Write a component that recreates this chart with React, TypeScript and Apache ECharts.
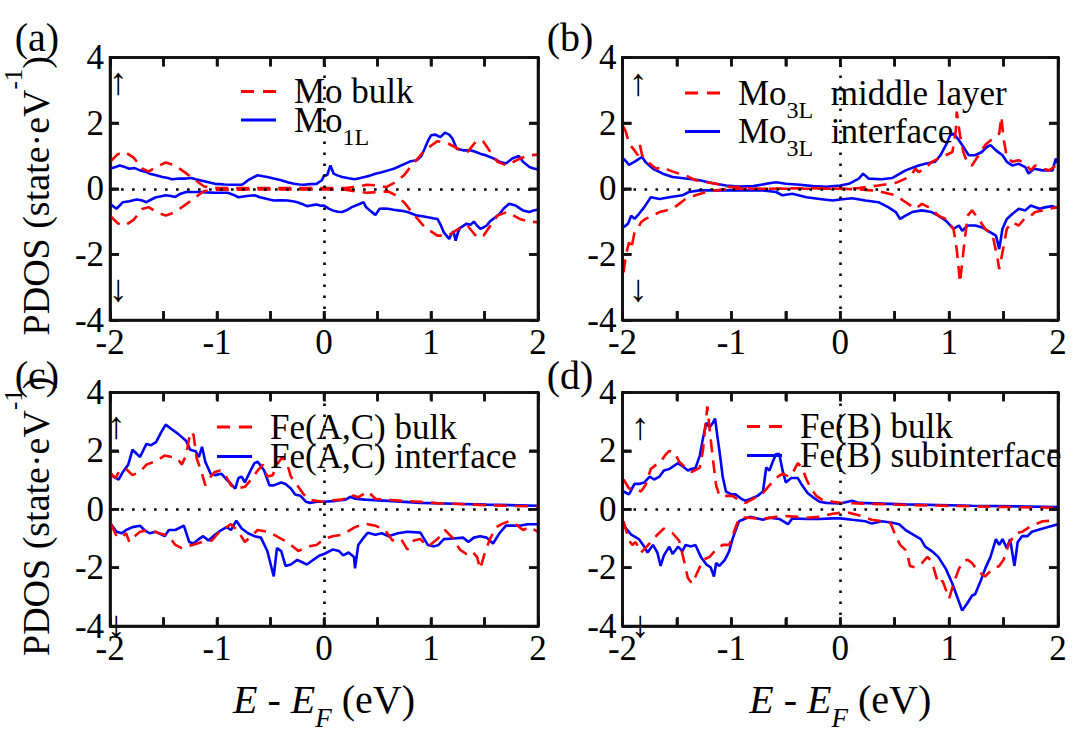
import React, { useEffect, useRef } from 'react';
import * as echarts from 'echarts';

// ---------- data: [E - E_F (eV), PDOS] ----------
// (a) Mo bulk / Mo 1L
const aBulkUp = [[-2,0.82],[-1.93,1.05],[-1.86,1.12],[-1.78,0.95],[-1.7,0.62],[-1.64,0.52],[-1.56,0.68],[-1.48,0.8],[-1.4,0.72],[-1.3,0.5],[-1.22,0.3],[-1.12,0.07],[-1.0,0.02],[-0.5,0.02],[0,0.02],[0.2,0.02],[0.3,0.06],[0.4,0.12],[0.5,0.1],[0.58,0.05],[0.67,0.2],[0.75,0.42],[0.82,0.71],[0.94,1.17],[1.06,1.45],[1.16,1.38],[1.28,1.17],[1.34,1.12],[1.43,1.48],[1.49,1.43],[1.62,0.82],[1.71,0.71],[1.83,0.92],[1.92,1.02],[2.0,1.04]];
const aBulkDn = [[-2,-0.82],[-1.93,-1.05],[-1.86,-1.12],[-1.78,-0.95],[-1.7,-0.62],[-1.64,-0.56],[-1.56,-0.72],[-1.48,-0.82],[-1.4,-0.72],[-1.3,-0.5],[-1.22,-0.3],[-1.12,-0.07],[-1.0,-0.03],[-0.5,-0.02],[0,-0.02],[0.2,-0.03],[0.3,-0.08],[0.4,-0.12],[0.5,-0.1],[0.6,-0.08],[0.67,-0.2],[0.75,-0.42],[0.82,-0.71],[0.94,-1.17],[1.06,-1.43],[1.16,-1.43],[1.28,-1.17],[1.34,-1.12],[1.43,-1.48],[1.49,-1.43],[1.62,-0.82],[1.71,-0.71],[1.83,-0.92],[1.92,-1.0],[2.0,-1.02]];
const a1LUp = [[-2,0.61],[-1.95,0.66],[-1.91,0.71],[-1.86,0.66],[-1.82,0.61],[-1.77,0.63],[-1.72,0.56],[-1.67,0.52],[-1.63,0.46],[-1.57,0.41],[-1.51,0.36],[-1.46,0.33],[-1.42,0.29],[-1.35,0.31],[-1.29,0.31],[-1.24,0.33],[-1.2,0.29],[-1.15,0.25],[-1.11,0.22],[-1.06,0.18],[-1.02,0.15],[-0.97,0.14],[-0.93,0.13],[-0.85,0.12],[-0.77,0.12],[-0.74,0.18],[-0.71,0.26],[-0.66,0.35],[-0.62,0.41],[-0.57,0.38],[-0.53,0.36],[-0.47,0.31],[-0.4,0.26],[-0.34,0.2],[-0.28,0.15],[-0.23,0.13],[-0.19,0.12],[-0.13,0.14],[-0.07,0.15],[-0.02,0.26],[0.0,0.4],[0.03,0.42],[0.06,0.71],[0.09,0.46],[0.13,0.4],[0.17,0.36],[0.23,0.32],[0.29,0.29],[0.34,0.33],[0.38,0.36],[0.43,0.4],[0.48,0.46],[0.54,0.5],[0.6,0.56],[0.66,0.62],[0.72,0.71],[0.77,0.78],[0.81,0.84],[0.87,0.87],[0.91,1.0],[0.94,1.22],[0.97,1.45],[1.0,1.63],[1.04,1.65],[1.07,1.6],[1.09,1.58],[1.13,1.71],[1.17,1.65],[1.2,1.53],[1.24,1.22],[1.3,1.17],[1.37,1.17],[1.42,1.12],[1.46,1.07],[1.51,1.02],[1.55,0.97],[1.6,0.9],[1.64,0.82],[1.7,0.77],[1.76,0.92],[1.82,1.0],[1.86,0.82],[1.92,0.66],[1.96,0.62],[2.0,0.59]];
const a1LDn = [[-2,-0.46],[-1.94,-0.61],[-1.88,-0.41],[-1.82,-0.38],[-1.75,-0.33],[-1.7,-0.36],[-1.66,-0.41],[-1.61,-0.32],[-1.57,-0.26],[-1.52,-0.23],[-1.48,-0.2],[-1.43,-0.22],[-1.39,-0.25],[-1.34,-0.15],[-1.29,-0.1],[-1.17,-0.1],[-1.1,-0.11],[-1.02,-0.12],[-0.9,-0.12],[-0.85,-0.18],[-0.8,-0.26],[-0.72,-0.22],[-0.65,-0.2],[-0.6,-0.26],[-0.56,-0.29],[-0.51,-0.33],[-0.47,-0.36],[-0.4,-0.35],[-0.34,-0.36],[-0.28,-0.39],[-0.25,-0.41],[-0.2,-0.47],[-0.16,-0.53],[-0.11,-0.5],[-0.07,-0.48],[-0.03,-0.52],[0.0,-0.51],[0.04,-0.6],[0.08,-0.66],[0.13,-0.7],[0.17,-0.71],[0.22,-0.64],[0.26,-0.56],[0.32,-0.48],[0.37,-0.41],[0.39,-0.55],[0.41,-0.61],[0.45,-0.72],[0.48,-0.8],[0.52,-0.61],[0.56,-0.6],[0.6,-0.61],[0.65,-0.64],[0.69,-0.66],[0.74,-0.68],[0.78,-0.71],[0.83,-0.77],[0.87,-0.82],[0.92,-0.84],[0.97,-0.87],[1.02,-0.9],[1.06,-0.92],[1.09,-1.1],[1.12,-1.33],[1.15,-1.45],[1.17,-1.53],[1.19,-1.38],[1.21,-1.3],[1.23,-1.58],[1.25,-1.35],[1.27,-1.2],[1.33,-1.07],[1.37,-1.1],[1.4,-1.0],[1.43,-1.12],[1.46,-1.22],[1.49,-1.18],[1.52,-1.12],[1.55,-1.0],[1.58,-0.92],[1.64,-0.77],[1.68,-0.6],[1.73,-0.46],[1.79,-0.51],[1.83,-0.6],[1.86,-0.66],[1.92,-0.71],[1.96,-0.66],[2.0,-0.63]];

// (b) Mo 3L middle layer / Mo 3L interface
const bMidUp = [[-1.99,1.89],[-1.97,1.74],[-1.94,1.38],[-1.89,1.17],[-1.86,1.02],[-1.84,1.33],[-1.82,1.02],[-1.75,0.77],[-1.69,0.61],[-1.63,0.66],[-1.57,0.56],[-1.48,0.46],[-1.42,0.41],[-1.33,0.26],[-1.23,0.2],[-1.14,0.15],[-1.02,0.05],[-0.9,0.05],[-0.8,0.0],[-0.65,0.0],[-0.3,0.02],[0,0.0],[0.17,0.02],[0.35,0.1],[0.51,0.18],[0.6,0.31],[0.66,0.46],[0.69,0.61],[0.72,0.51],[0.78,0.61],[0.84,0.82],[0.9,0.92],[0.97,1.02],[1.03,1.12],[1.06,1.73],[1.07,2.35],[1.1,1.63],[1.13,1.12],[1.17,0.77],[1.21,0.71],[1.27,1.02],[1.33,1.33],[1.4,1.53],[1.46,1.68],[1.48,2.19],[1.5,1.53],[1.53,0.97],[1.58,0.82],[1.64,0.87],[1.7,0.77],[1.75,0.56],[1.79,0.71],[1.86,0.61],[1.92,0.56],[1.98,0.71],[2.0,0.82]];
const bMidDn = [[-1.99,-2.55],[-1.97,-2.04],[-1.94,-1.63],[-1.92,-1.84],[-1.89,-1.33],[-1.86,-1.22],[-1.83,-1.02],[-1.79,-0.92],[-1.72,-0.82],[-1.66,-0.71],[-1.6,-0.66],[-1.54,-0.61],[-1.48,-0.46],[-1.42,-0.31],[-1.33,-0.2],[-1.23,-0.1],[-1.14,-0.05],[-1.02,0],[0,0],[0.17,-0.02],[0.29,-0.05],[0.38,-0.1],[0.51,-0.2],[0.6,-0.41],[0.69,-0.61],[0.75,-0.46],[0.84,-0.61],[0.9,-0.82],[0.97,-0.92],[1.04,-1.22],[1.07,-1.84],[1.1,-2.86],[1.13,-1.94],[1.17,-0.82],[1.21,-0.66],[1.27,-0.92],[1.33,-1.22],[1.4,-1.43],[1.44,-2.04],[1.46,-2.45],[1.49,-1.94],[1.53,-1.22],[1.58,-1.02],[1.64,-1.12],[1.69,-0.92],[1.75,-0.82],[1.79,-0.71],[1.86,-0.66],[1.92,-0.61],[2.0,-0.56]];
const bIntUp = [[-1.99,0.92],[-1.94,0.73],[-1.88,0.84],[-1.82,0.97],[-1.79,0.82],[-1.72,0.61],[-1.63,0.46],[-1.54,0.36],[-1.42,0.31],[-1.29,0.26],[-1.17,0.17],[-1.05,0.1],[-0.93,0.07],[-0.8,0.08],[-0.68,0.15],[-0.59,0.2],[-0.5,0.15],[-0.37,0.12],[-0.25,0.08],[-0.13,0.06],[0.0,0.1],[0.08,0.15],[0.17,0.31],[0.21,0.46],[0.26,0.31],[0.38,0.29],[0.48,0.33],[0.6,0.56],[0.72,0.71],[0.78,0.76],[0.87,0.82],[0.92,1.02],[0.97,1.33],[1.01,1.63],[1.04,1.68],[1.09,1.48],[1.13,1.28],[1.18,1.02],[1.24,1.02],[1.3,1.12],[1.35,1.28],[1.38,1.33],[1.43,1.17],[1.49,1.02],[1.53,0.82],[1.58,0.71],[1.64,0.76],[1.7,0.66],[1.73,0.46],[1.78,0.61],[1.86,0.56],[1.95,0.56],[1.98,0.92],[2.0,0.77]];
const bIntDn = [[-1.99,-1.17],[-1.95,-1.07],[-1.92,-0.82],[-1.89,-0.92],[-1.85,-0.77],[-1.8,-0.56],[-1.74,-0.26],[-1.66,-0.31],[-1.57,-0.26],[-1.45,-0.2],[-1.39,-0.1],[-1.29,-0.05],[-1.0,-0.05],[-0.71,-0.05],[-0.59,-0.1],[-0.53,-0.2],[-0.44,-0.15],[-0.31,-0.26],[-0.19,-0.31],[-0.07,-0.36],[0.0,-0.33],[0.11,-0.29],[0.23,-0.36],[0.35,-0.41],[0.44,-0.56],[0.51,-0.71],[0.55,-0.92],[0.6,-0.82],[0.66,-0.71],[0.75,-0.66],[0.84,-0.71],[0.9,-0.82],[0.97,-0.97],[1.04,-1.22],[1.09,-1.12],[1.12,-1.28],[1.17,-1.12],[1.24,-1.12],[1.3,-1.17],[1.38,-1.33],[1.43,-1.43],[1.46,-1.84],[1.49,-1.22],[1.53,-0.92],[1.58,-0.77],[1.64,-0.61],[1.7,-0.66],[1.75,-0.51],[1.83,-0.61],[1.89,-0.56],[1.95,-0.53],[2.0,-0.59]];

// (c) Fe(A,C) bulk / Fe(A,C) interface
const cBulkUp = [[-1.99,1.22],[-1.95,1.07],[-1.91,1.33],[-1.85,1.38],[-1.79,1.17],[-1.72,1.28],[-1.66,1.53],[-1.57,1.65],[-1.49,1.84],[-1.42,1.79],[-1.37,1.74],[-1.33,1.53],[-1.29,1.84],[-1.25,2.65],[-1.22,2.55],[-1.19,1.74],[-1.14,1.22],[-1.11,0.82],[-1.06,1.12],[-1.02,1.28],[-0.97,1.33],[-0.93,1.22],[-0.87,0.82],[-0.82,0.71],[-0.74,0.77],[-0.68,1.02],[-0.62,1.33],[-0.57,1.53],[-0.53,1.12],[-0.48,1.17],[-0.44,1.53],[-0.39,1.79],[-0.35,1.63],[-0.31,1.12],[-0.25,0.82],[-0.19,0.51],[-0.13,0.31],[-0.07,0.29],[0.0,0.26],[0.08,0.31],[0.17,0.33],[0.26,0.49],[0.32,0.41],[0.41,0.61],[0.48,0.36],[0.6,0.33],[0.72,0.29],[0.9,0.26],[1.09,0.2],[1.27,0.18],[1.46,0.15],[1.7,0.12],[2.0,0.1]];
const cBulkDn = [[-1.99,-0.51],[-1.94,-0.92],[-1.89,-0.97],[-1.85,-0.82],[-1.82,-1.12],[-1.77,-0.92],[-1.72,-0.77],[-1.63,-0.71],[-1.54,-0.82],[-1.45,-0.92],[-1.39,-1.22],[-1.33,-1.33],[-1.23,-1.22],[-1.14,-1.12],[-1.05,-1.07],[-0.99,-0.82],[-0.93,-0.66],[-0.87,-0.51],[-0.8,-0.77],[-0.74,-1.12],[-0.68,-0.92],[-0.62,-0.71],[-0.53,-0.77],[-0.47,-0.87],[-0.37,-1.07],[-0.31,-1.22],[-0.24,-1.43],[-0.16,-1.28],[-0.07,-1.22],[0.0,-1.02],[0.08,-0.92],[0.17,-0.87],[0.29,-0.61],[0.38,-0.49],[0.48,-0.56],[0.57,-0.71],[0.64,-1.07],[0.72,-1.02],[0.78,-1.38],[0.84,-1.07],[0.9,-1.02],[0.97,-1.28],[1.06,-1.02],[1.13,-0.71],[1.2,-0.97],[1.27,-1.38],[1.33,-1.53],[1.38,-1.43],[1.43,-1.63],[1.46,-2.04],[1.5,-1.53],[1.55,-1.02],[1.61,-0.61],[1.67,-0.49],[1.73,-0.41],[1.79,-0.51],[1.86,-0.71],[1.92,-0.61],[2.0,-0.77]];
const cIntUp = [[-1.99,1.17],[-1.92,1.02],[-1.88,1.28],[-1.83,1.53],[-1.79,2.04],[-1.72,1.79],[-1.66,2.24],[-1.62,2.19],[-1.57,2.3],[-1.52,2.65],[-1.48,2.9],[-1.43,2.76],[-1.37,2.6],[-1.29,2.35],[-1.25,2.04],[-1.2,1.99],[-1.17,1.79],[-1.14,2.14],[-1.11,1.63],[-1.06,1.22],[-1.02,1.17],[-0.96,1.22],[-0.91,1.02],[-0.87,0.87],[-0.83,0.71],[-0.8,1.07],[-0.77,1.12],[-0.74,0.92],[-0.68,1.38],[-0.65,1.58],[-0.62,1.63],[-0.59,1.48],[-0.56,1.33],[-0.51,0.82],[-0.47,0.82],[-0.4,0.92],[-0.36,0.87],[-0.31,0.71],[-0.27,0.51],[-0.22,0.46],[-0.17,0.26],[-0.13,0.22],[-0.07,0.26],[0.0,0.26],[0.11,0.29],[0.2,0.33],[0.25,0.43],[0.29,0.36],[0.38,0.33],[0.6,0.29],[0.9,0.22],[1.21,0.19],[1.52,0.16],[2.0,0.12]];
const cIntDn = [[-1.99,-0.51],[-1.94,-0.77],[-1.89,-0.82],[-1.85,-0.71],[-1.79,-0.61],[-1.72,-0.56],[-1.68,-0.71],[-1.63,-0.82],[-1.57,-0.77],[-1.49,-0.92],[-1.45,-0.71],[-1.39,-0.71],[-1.31,-0.56],[-1.26,-1.12],[-1.22,-1.17],[-1.17,-1.02],[-1.13,-0.92],[-1.08,-1.07],[-1.02,-0.87],[-0.96,-0.71],[-0.91,-0.61],[-0.87,-0.71],[-0.82,-0.39],[-0.77,-0.66],[-0.71,-0.82],[-0.65,-0.92],[-0.59,-0.97],[-0.53,-1.43],[-0.47,-2.3],[-0.44,-1.33],[-0.4,-1.43],[-0.36,-1.94],[-0.31,-1.89],[-0.25,-1.73],[-0.19,-1.84],[-0.16,-1.89],[-0.1,-1.73],[-0.04,-1.58],[0.0,-1.53],[0.08,-1.38],[0.14,-1.43],[0.18,-1.58],[0.23,-1.48],[0.28,-1.63],[0.29,-2.02],[0.32,-1.22],[0.37,-0.97],[0.41,-0.8],[0.48,-0.87],[0.54,-0.82],[0.6,-0.92],[0.69,-0.82],[0.78,-0.77],[0.9,-0.8],[0.97,-1.22],[1.03,-1.27],[1.07,-1.22],[1.12,-1.02],[1.21,-1.0],[1.3,-0.97],[1.35,-1.12],[1.4,-0.97],[1.46,-0.92],[1.52,-0.97],[1.58,-1.17],[1.64,-0.82],[1.7,-0.56],[1.83,-0.56],[1.9,-0.51],[2.0,-0.51]];

// (d) Fe(B) bulk / Fe(B) subinterface
const dBulkUp = [[-1.99,1.02],[-1.94,0.71],[-1.88,0.71],[-1.83,0.61],[-1.79,0.82],[-1.74,1.38],[-1.69,1.53],[-1.65,1.63],[-1.6,1.89],[-1.57,2.0],[-1.52,1.94],[-1.48,1.63],[-1.42,1.43],[-1.36,1.28],[-1.29,1.43],[-1.26,2.04],[-1.24,2.86],[-1.22,3.52],[-1.2,2.76],[-1.17,1.73],[-1.14,0.82],[-1.11,0.46],[-1.05,0.46],[-0.99,0.46],[-0.93,0.31],[-0.87,0.22],[-0.8,0.36],[-0.71,0.56],[-0.65,0.82],[-0.59,1.07],[-0.53,1.22],[-0.47,1.12],[-0.44,1.22],[-0.39,1.58],[-0.35,1.43],[-0.31,1.02],[-0.27,0.71],[-0.22,0.46],[-0.16,0.31],[-0.07,0.26],[0.0,0.22],[0.17,0.2],[0.6,0.15],[1.21,0.1],[2.0,0.05]];
const dBulkDn = [[-1.99,-0.41],[-1.94,-1.07],[-1.91,-1.22],[-1.88,-1.12],[-1.83,-1.48],[-1.79,-1.33],[-1.74,-1.12],[-1.68,-0.87],[-1.62,-0.66],[-1.54,-0.82],[-1.48,-1.07],[-1.43,-1.84],[-1.4,-2.35],[-1.36,-2.55],[-1.31,-2.14],[-1.26,-1.73],[-1.2,-1.63],[-1.14,-1.38],[-1.08,-1.22],[-1.02,-1.22],[-0.97,-0.71],[-0.93,-0.31],[-0.87,-0.28],[-0.77,-0.31],[-0.68,-0.31],[-0.59,-0.26],[-0.5,-0.23],[-0.4,-0.26],[-0.31,-0.29],[-0.19,-0.26],[-0.07,-0.15],[0.0,-0.12],[0.08,-0.12],[0.17,-0.2],[0.29,-0.36],[0.38,-0.41],[0.46,-0.46],[0.51,-0.92],[0.55,-1.22],[0.61,-1.43],[0.64,-1.94],[0.69,-1.99],[0.75,-1.84],[0.8,-1.63],[0.84,-1.78],[0.9,-2.55],[0.94,-2.45],[1.0,-3.06],[1.04,-2.55],[1.09,-2.04],[1.13,-1.78],[1.17,-1.73],[1.21,-1.84],[1.27,-2.14],[1.33,-2.3],[1.4,-2.04],[1.46,-1.94],[1.5,-1.73],[1.55,-1.17],[1.61,-0.82],[1.67,-0.77],[1.76,-0.56],[1.86,-0.41],[1.95,-0.39],[2.0,-0.36]];
const dSubUp = [[-1.99,0.61],[-1.94,0.51],[-1.89,0.87],[-1.85,0.87],[-1.8,0.92],[-1.75,1.12],[-1.71,1.02],[-1.66,1.12],[-1.62,1.33],[-1.57,1.38],[-1.49,1.58],[-1.45,1.48],[-1.4,1.33],[-1.37,1.38],[-1.33,1.41],[-1.29,1.84],[-1.26,2.45],[-1.23,2.96],[-1.2,2.81],[-1.17,2.96],[-1.15,3.11],[-1.13,2.55],[-1.1,1.73],[-1.08,1.12],[-1.05,0.61],[-1.0,0.51],[-0.96,0.51],[-0.91,0.36],[-0.87,0.29],[-0.82,0.36],[-0.76,0.46],[-0.71,0.61],[-0.68,1.43],[-0.65,1.33],[-0.62,1.63],[-0.59,1.89],[-0.56,1.89],[-0.53,1.33],[-0.5,0.92],[-0.45,1.07],[-0.39,1.07],[-0.35,0.82],[-0.3,0.56],[-0.25,0.41],[-0.19,0.26],[-0.13,0.22],[0.0,0.2],[0.11,0.29],[0.17,0.22],[0.6,0.17],[1.21,0.12],[2.0,0.08]];
const dSubDn = [[-1.99,-0.56],[-1.92,-0.87],[-1.85,-1.02],[-1.8,-1.28],[-1.77,-1.48],[-1.72,-1.22],[-1.68,-1.48],[-1.65,-1.94],[-1.62,-1.58],[-1.57,-1.28],[-1.54,-1.53],[-1.49,-1.28],[-1.45,-1.43],[-1.42,-1.22],[-1.37,-1.27],[-1.33,-1.22],[-1.28,-1.63],[-1.23,-1.89],[-1.19,-1.99],[-1.16,-2.3],[-1.14,-1.84],[-1.11,-1.94],[-1.06,-1.73],[-1.02,-1.43],[-0.99,-1.02],[-0.96,-0.71],[-0.93,-0.41],[-0.88,-0.33],[-0.83,-0.26],[-0.77,-0.31],[-0.71,-0.36],[-0.65,-0.29],[-0.56,-0.33],[-0.48,-0.51],[-0.44,-0.31],[-0.31,-0.33],[-0.19,-0.33],[-0.07,-0.31],[0.0,-0.31],[0.11,-0.36],[0.23,-0.41],[0.29,-0.49],[0.38,-0.41],[0.48,-0.46],[0.54,-0.51],[0.6,-0.71],[0.67,-0.87],[0.74,-1.02],[0.78,-1.28],[0.84,-1.43],[0.9,-1.63],[0.97,-2.04],[1.03,-2.55],[1.07,-2.96],[1.12,-3.47],[1.17,-3.2],[1.21,-2.96],[1.24,-2.9],[1.29,-2.45],[1.33,-2.04],[1.38,-1.63],[1.43,-1.02],[1.46,-1.22],[1.49,-1.02],[1.53,-1.33],[1.56,-1.02],[1.6,-1.94],[1.63,-1.12],[1.67,-0.92],[1.72,-0.92],[1.76,-0.77],[1.86,-0.66],[1.95,-0.56],[2.0,-0.51]];

const panelLabels = ['(a)', '(b)', '(c)', '(d)'];
const bulkNames = ['Mo bulk', 'Mo3L middle layer', 'Fe(A,C) bulk', 'Fe(B) bulk'];
const ifNames = ['Mo1L', 'Mo3L interface', 'Fe(A,C) interface', 'Fe(B) subinterface'];
const yMin = -4;
const yMax = 4;
const xMin = -2;
const xMax = 2;
const xTickValues = [-1.5, -1, -0.5, 0, 0.5, 1, 1.5];
const yTickValues = [-2, 0, 2];
// inward tick lengths in axis units (about 9 px)
const xTickLen = 0.27;
const yTickLen = 0.082;

const bulkData = [[aBulkUp, aBulkDn], [bMidUp, bMidDn], [cBulkUp, cBulkDn], [dBulkUp, dBulkDn]];
const ifData = [[a1LUp, a1LDn], [bIntUp, bIntDn], [cIntUp, cIntDn], [dSubUp, dSubDn]];

const FONT = 'Liberation Serif, Times New Roman, serif';
const RED = '#ff0000';
const BLUE = '#0000ff';
const DASH_ICON = 'path://M0,0H13V3H0Z M22,0H35V3H22Z';
const SOLID_ICON = 'path://M0,0H35V3H0Z';

const legendText: Record<string, string> = {
  'Mo bulk': '{f|Mo bulk}',
  'Mo1L': '{f|Mo}{s|1L}',
  'Mo3L middle layer': '{f|Mo}{s|3L}{m|  middle layer}',
  'Mo3L interface': '{f|Mo}{s|3L}{m|  interface}',
  'Fe(A,C) bulk': '{f|Fe(A,C) bulk}',
  'Fe(A,C) interface': '{f|Fe(A,C) interface}',
  'Fe(B) bulk': '{f|Fe(B) bulk}',
  'Fe(B) subinterface': '{f|Fe(B) subinterface}',
};

// frame outline + mirrored inward ticks, as one broken polyline in axis units
const GAP: any = ['-', '-'];
const frameData: any[] = [[xMin, yMin], [xMax, yMin], [xMax, yMax], [xMin, yMax], [xMin, yMin], GAP];
xTickValues.forEach((v) => {
  frameData.push([v, yMin], [v, yMin + xTickLen], GAP, [v, yMax], [v, yMax - xTickLen], GAP);
});
yTickValues.forEach((v) => {
  frameData.push([xMin, v], [xMin + yTickLen, v], GAP, [xMax, v], [xMax - yTickLen, v], GAP);
});

export default function App() {
  const ref = useRef<HTMLDivElement>(null);
  useEffect(() => {
    document.body.style.margin = '0';
    document.body.style.background = '#fff';
    const chart = echarts.init(ref.current as HTMLDivElement, undefined, { renderer: 'svg' });

    const grids = [
      { left: 101, top: 57.5, width: 437, height: 262.5 },
      { left: 622.5, top: 57.5, width: 435.5, height: 262.5 },
      { left: 101, top: 392.5, width: 437, height: 262.5 },
      { left: 622.5, top: 392.5, width: 435.5, height: 262.5 },
    ].map((g) => ({ ...g, show: false }));

    const mkTick = () => ({ show: true, inside: true, length: 9, lineStyle: { color: '#000', width: 2.5 } });
    const mkLine = () => ({ show: true, onZero: false, lineStyle: { color: '#000', width: 2.6 } });
    const xAxes: any[] = [];
    const yAxes: any[] = [];
    for (let i = 0; i < 4; i++) {
      xAxes.push({
        gridIndex: i, type: 'value', min: xMin, max: xMax, interval: 0.5, position: 'bottom',
        axisLine: mkLine(), axisTick: mkTick(), splitLine: { show: false },
        axisLabel: {
          show: true, showMinLabel: true, showMaxLabel: true, margin: 5,
          fontFamily: FONT, fontSize: 35, color: '#000',
          formatter: (v: number) => (Math.abs(v - Math.round(v)) < 1e-9 ? String(Math.round(v)) : ''),
        },
        name: i >= 2 ? '{i|E}{n| - }{i|E}{s|F}{n| (eV)}' : '',
        nameLocation: 'middle', nameGap: 19,
        nameTextStyle: {
          color: '#000',
          rich: {
            i: { fontFamily: FONT, fontStyle: 'italic', fontSize: 40, lineHeight: 40, verticalAlign: 'middle', color: '#000' },
            n: { fontFamily: FONT, fontSize: 40, lineHeight: 40, verticalAlign: 'middle', color: '#000' },
            s: { fontFamily: FONT, fontStyle: 'italic', fontSize: 27, lineHeight: 64, verticalAlign: 'top', padding: [37, 0, 0, 0], color: '#000' },
          },
        },
      });
      xAxes.push({
        gridIndex: i, type: 'value', min: xMin, max: xMax, interval: 0.5, position: 'top',
        axisLine: mkLine(), axisTick: mkTick(), splitLine: { show: false }, axisLabel: { show: false },
      });
      yAxes.push({
        gridIndex: i, type: 'value', min: yMin, max: yMax, interval: 2, position: 'left',
        axisLine: mkLine(), axisTick: mkTick(), splitLine: { show: false },
        axisLabel: { show: true, showMinLabel: true, showMaxLabel: true, margin: 6, fontFamily: FONT, fontSize: 35, color: '#000' },
        name: i % 2 === 0 ? '{n|PDOS (state·eV}{p|-1}{n|)}' : '',
        nameLocation: 'middle', nameGap: 20,
        nameTextStyle: {
          color: '#000', padding: [0, 14, 0, 0],
          rich: {
            n: { fontFamily: FONT, fontSize: 38, lineHeight: 70, padding: [16, 0, 16, 0], verticalAlign: 'middle', color: '#000' },
            p: { fontFamily: FONT, fontSize: 25, lineHeight: 25, verticalAlign: 'top', color: '#000' },
          },
        },
      });
      yAxes.push({
        gridIndex: i, type: 'value', min: yMin, max: yMax, interval: 2, position: 'right',
        axisLine: mkLine(), axisTick: mkTick(), splitLine: { show: false }, axisLabel: { show: false },
      });
    }

    const series: any[] = [];
    for (let i = 0; i < 4; i++) {
      series.push({
        type: 'line', name: 'frame' + i, xAxisIndex: i * 2, yAxisIndex: i * 2, data: frameData,
        symbol: 'none', showSymbol: false, silent: true, z: 10, clip: false, connectNulls: false,
        lineStyle: { color: '#111', width: 2.6, type: 'solid', cap: 'butt', join: 'miter' },
        itemStyle: { color: '#111' },
      });
      ifData[i].forEach((d, k) => {
        series.push({
          type: 'line', name: ifNames[i], xAxisIndex: i * 2, yAxisIndex: i * 2, data: d,
          symbol: 'none', showSymbol: false, silent: true, z: 2,
          lineStyle: { color: BLUE, width: 2.6, type: 'solid' }, itemStyle: { color: BLUE },
          markLine: k === 0 ? {
            silent: true, symbol: ['none', 'none'], label: { show: false },
            lineStyle: { color: '#000', width: 2.6, type: [2.6, 8.4] },
            data: [{ yAxis: 0 }, { xAxis: 0 }],
          } : undefined,
        });
      });
      bulkData[i].forEach((d) => {
        series.push({
          type: 'line', name: bulkNames[i], xAxisIndex: i * 2, yAxisIndex: i * 2, data: d,
          symbol: 'none', showSymbol: false, silent: true, z: 3,
          lineStyle: { color: RED, width: 2.6, type: [13, 8] }, itemStyle: { color: RED },
        });
      });
    }

    const legendPos = [
      { name: 'Mo bulk', icon: DASH_ICON, left: 241, top: 74 },
      { name: 'Mo1L', icon: SOLID_ICON, left: 241, top: 102.5 },
      { name: 'Mo3L middle layer', icon: DASH_ICON, left: 685, top: 75.5 },
      { name: 'Mo3L interface', icon: SOLID_ICON, left: 685, top: 114 },
      { name: 'Fe(A,C) bulk', icon: DASH_ICON, left: 217, top: 409.5 },
      { name: 'Fe(A,C) interface', icon: SOLID_ICON, left: 217, top: 439 },
      { name: 'Fe(B) bulk', icon: DASH_ICON, left: 747, top: 409 },
      { name: 'Fe(B) subinterface', icon: SOLID_ICON, left: 747, top: 438 },
    ];
    const legend = legendPos.map((l) => ({
      data: [{ name: l.name, icon: l.icon }], left: l.left, top: l.top, orient: 'vertical', padding: 0,
      itemWidth: 35, itemHeight: 3, selectedMode: false,
      formatter: (n: string) => legendText[n] || n,
      textStyle: {
        color: '#000', fontFamily: FONT, fontSize: 35,
        rich: {
          f: { fontFamily: FONT, fontSize: 35, lineHeight: 28, padding: [0, 0, 0, 13], verticalAlign: 'middle', color: '#000' },
          m: { fontFamily: FONT, fontSize: 35, lineHeight: 28, verticalAlign: 'middle', color: '#000' },
          s: { fontFamily: FONT, fontSize: 24, lineHeight: 34, padding: [21.5, 0, 0, 0], verticalAlign: 'top', color: '#000' },
        },
      },
    }));

    const txt = (text: string, x: number, y: number, size: number) => ({
      type: 'text', x, y, silent: true, z: 10,
      style: {
        text, fill: '#000', fontFamily: FONT, fontSize: size,
        textAlign: 'center', textVerticalAlign: 'middle', align: 'center', verticalAlign: 'middle',
      },
    });
    const labelPos = [[37, 37], [570, 37], [37, 375], [570, 375]];
    const upPos = [[118, 81], [638, 82], [116, 425], [640, 426]];
    const dnPos = [[118, 288], [638, 288], [116, 624], [640, 624]];
    const graphic: any[] = [];
    for (let i = 0; i < 4; i++) {
      graphic.push(txt(panelLabels[i], labelPos[i][0], labelPos[i][1], 40));
      graphic.push(txt('↑', upPos[i][0], upPos[i][1], 38));
      graphic.push(txt('↓', dnPos[i][0], dnPos[i][1], 38));
    }

    chart.setOption({
      animation: false,
      grid: grids,
      xAxis: xAxes,
      yAxis: yAxes,
      legend,
      series,
      graphic,
    });

    return () => chart.dispose();
  }, []);
  return <div ref={ref} style={{ width: 1072, height: 732 }} />;
}
